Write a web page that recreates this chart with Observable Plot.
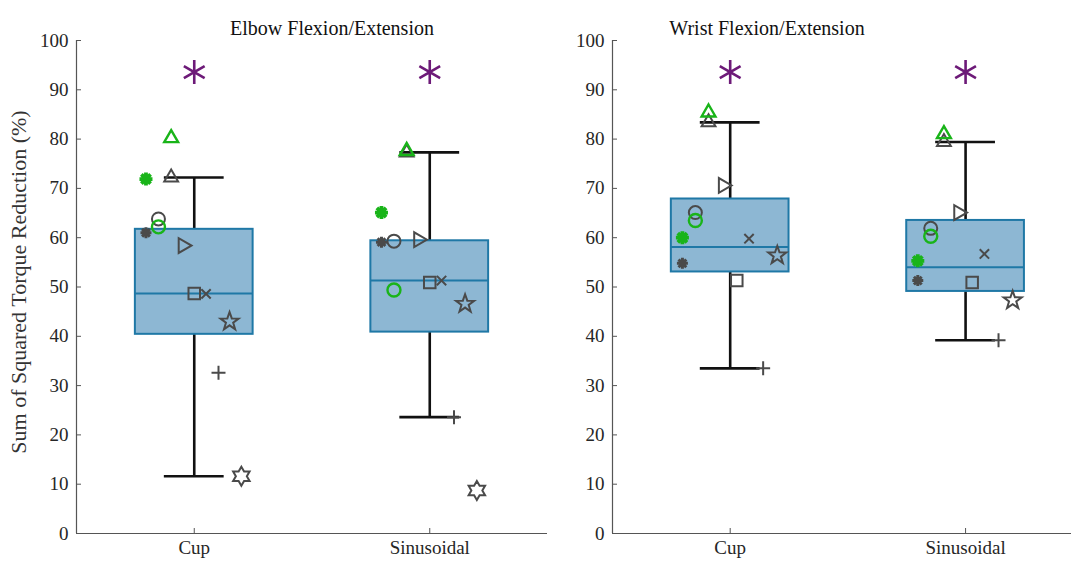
<!DOCTYPE html>
<html><head><meta charset="utf-8">
<script src="https://cdn.jsdelivr.net/npm/d3@7"></script>
<script src="https://cdn.jsdelivr.net/npm/@observablehq/plot@0.6"></script>
<style>
body{margin:0;background:#fff;}
#wrap{display:flex;width:1071px;height:565px;overflow:hidden;}
#wrap svg{display:block;flex:none;}
#wrap svg text{font-family:"Liberation Serif","Times New Roman",serif !important;}
</style></head><body><div id="wrap"></div>
<script>
// ---------- data ----------
const conditions = ["Cup", "Sinusoidal"];
const panelTitles = ["Elbow Flexion/Extension", "Wrist Flexion/Extension"];
const yLabel = "Sum of Squared Torque Reduction (%)";
const yTicks = [0, 10, 20, 30, 40, 50, 60, 70, 80, 90, 100];

// subject marker order (gray markers)
const subjectShapes = ["triUp", "circle", "asterisk", "triRight", "square", "times", "pentagram", "plus", "hexagram"];
const elbowCup = [72.2, 63.8, 61.0, 58.4, 48.7, 48.6, 43.0, 32.6, 11.6];
const elbowSin = [77.3, 59.3, 59.1, 59.6, 50.9, 51.3, 46.6, 23.6, 8.7];
const wristCup = [83.4, 65.1, 54.8, 70.6, 51.3, 59.8, 56.4, 33.5, null];
const wristSin = [79.4, 61.9, 51.3, 65.1, 50.9, 56.7, 47.3, 39.2, null];
// horizontal jitter of each subject (in category units)
const elbowJitter = [-0.098, -0.152, -0.205, -0.048, 0, 0.05, 0.15, 0.103, 0.2];
const wristJitter = [-0.092, -0.148, -0.203, -0.03, 0.028, 0.08, 0.2, 0.14, 0.2];

// green markers (second group)
const greenShapes = ["triUp", "circle", "asteriskFill"];
const greenSubjectIndex = [0, 1, 2];
const elbowCupG = [80.2, 62.2, 71.9];
const elbowSinG = [77.6, 49.4, 65.1];
const wristCupG = [85.4, 63.5, 60.0];
const wristSinG = [81.0, 60.3, 55.3];

// significance markers
const elbowSig = [93.6, 93.6];
const wristSig = [93.6, 93.6];

// ---------- symbols ----------
function sym(fn) { return { draw(ctx, size) { fn(ctx, Math.sqrt(size / Math.PI)); } }; }
function poly(ctx, pts) { ctx.moveTo(pts[0][0], pts[0][1]); for (let i = 1; i < pts.length; i++) ctx.lineTo(pts[i][0], pts[i][1]); ctx.closePath(); }
function star(ctx, n, ro, ri) {
  const pts = [];
  for (let i = 0; i < 2 * n; i++) { const a = -Math.PI / 2 + i * Math.PI / n; const r = i % 2 ? ri : ro; pts.push([r * Math.cos(a), r * Math.sin(a)]); }
  poly(ctx, pts);
}
function rays(ctx, n, r) {
  for (let i = 0; i < n; i++) { const a = -Math.PI / 2 + i * Math.PI / n; ctx.moveTo(r * Math.cos(a), r * Math.sin(a)); ctx.lineTo(-r * Math.cos(a), -r * Math.sin(a)); }
}
const symbols = {
  triUp: sym((c, r) => poly(c, [[0, -r], [0.866 * r, 0.5 * r], [-0.866 * r, 0.5 * r]])),
  triRight: sym((c, r) => poly(c, [[r, 0], [-0.5 * r, 0.866 * r], [-0.5 * r, -0.866 * r]])),
  circle: sym((c, r) => { c.moveTo(r, 0); c.arc(0, 0, r, 0, 2 * Math.PI); }),
  square: sym((c, r) => { const s = 0.8 * r; c.rect(-s, -s, 2 * s, 2 * s); }),
  times: sym((c, r) => { const s = 0.72 * r; c.moveTo(-s, -s); c.lineTo(s, s); c.moveTo(-s, s); c.lineTo(s, -s); }),
  plus: sym((c, r) => { c.moveTo(-r, 0); c.lineTo(r, 0); c.moveTo(0, -r); c.lineTo(0, r); }),
  pentagram: sym((c, r) => star(c, 5, r, 0.4 * r)),
  hexagram: sym((c, r) => star(c, 6, r, r / Math.sqrt(3))),
  asterisk: sym((c, r) => rays(c, 4, r)),
  asteriskFill: sym((c, r) => rays(c, 4, r)),
  sig: sym((c, r) => rays(c, 3, r))
};
const symStyle = {
  triUp: { r: 8, sw: 2 }, triRight: { r: 8.5, sw: 2 }, circle: { r: 6.5, sw: 2 }, square: { r: 7.2, sw: 2 },
  times: { r: 6.5, sw: 2 }, plus: { r: 7, sw: 2 }, pentagram: { r: 9.5, sw: 2 }, hexagram: { r: 9.5, sw: 2 },
  asterisk: { r: 5.5, sw: 3 }, asteriskFill: { r: 6.5, sw: 3.8 }
};

// ---------- box statistics (MATLAB-style quantiles) ----------
function quant(s, p) {
  const n = s.length, pos = n * p + 0.5;
  if (pos <= 1) return s[0];
  if (pos >= n) return s[n - 1];
  const lo = Math.floor(pos), f = pos - lo;
  return s[lo - 1] + f * (s[lo] - s[lo - 1]);
}
function boxStats(values, x) {
  const s = values.filter(v => v != null).sort((a, b) => a - b);
  const q1 = quant(s, 0.25), median = quant(s, 0.5), q3 = quant(s, 0.75), iqr = q3 - q1;
  const lo = d3.min(s.filter(v => v >= q1 - 1.5 * iqr));
  const hi = d3.max(s.filter(v => v <= q3 + 1.5 * iqr));
  return { x, q1, median, q3, lo, hi };
}

const BOXFILL = "#8db7d3", BOXSTROKE = "#1f78a6", GRAY = "#4a4a4a", GREEN = "#19b419", PURPLE = "#6d1a78", AXIS = "#555";
const FONT = "Liberation Serif, Times New Roman, serif";

function panel({ width, marginLeft, marginRight, xmax, title, titleDx, cup, sin, cupG, sinG, jitter, sig, showYLabel }) {
  const stats = [boxStats(cup, 1), boxStats(sin, 2)];
  const pts = [];
  [cup, sin].forEach((vals, ci) => vals.forEach((v, i) => { if (v != null) pts.push({ x: ci + 1 + jitter[i], y: v, shape: subjectShapes[i], color: GRAY }); }));
  [cupG, sinG].forEach((vals, ci) => vals.forEach((v, i) => { pts.push({ x: ci + 1 + jitter[greenSubjectIndex[i]], y: v, shape: greenShapes[i], color: GREEN }); }));
  const sigPts = sig.map((v, i) => ({ x: i + 1, y: v }));
  const hw = 0.25, cw = 0.127;
  const shapeNames = ["triUp", "circle", "asterisk", "triRight", "square", "times", "pentagram", "plus", "hexagram", "asteriskFill"];
  const dotMarks = [];
  for (const color of [GRAY, GREEN]) {
    for (const s of shapeNames) {
      const d = pts.filter(p => p.shape === s && p.color === color);
      if (!d.length) continue;
      const sw = color === GREEN && s !== "asteriskFill" ? 2.4 : symStyle[s].sw;
      dotMarks.push(Plot.dot(d, { x: "x", y: "y", symbol: symbols[s], r: symStyle[s].r, stroke: color, strokeWidth: sw, fill: "none", strokeLinejoin: "miter" }));
    }
  }
  return Plot.plot({
    width, height: 565,
    marginTop: 40, marginBottom: 32, marginLeft, marginRight,
    style: { fontFamily: FONT, fontSize: "19px", color: "#262626", background: "white", overflow: "visible" },
    x: { domain: [0.5, xmax], label: null },
    y: { domain: [0, 100], label: null },
    marks: [
      Plot.ruleX([0.5], { y1: 0, y2: 100, stroke: AXIS, strokeWidth: 1.2 }),
      Plot.ruleY([0], { x1: 0.5, x2: xmax, stroke: AXIS, strokeWidth: 1.2 }),
      Plot.axisY(yTicks, { label: null, tickSize: -5, tickPadding: 13, fontSize: 19, stroke: AXIS, fill: "#262626", fontFamily: FONT }),
      Plot.axisX([1, 2], { label: null, tickSize: -5, tickPadding: 12, tickFormat: d => conditions[d - 1], fontSize: 19, stroke: AXIS, fill: "#262626", fontFamily: FONT }),
      // whiskers
      Plot.ruleX(stats, { x: "x", y1: "q3", y2: "hi", stroke: "#111", strokeWidth: 2.6 }),
      Plot.ruleX(stats, { x: "x", y1: "lo", y2: "q1", stroke: "#111", strokeWidth: 2.6 }),
      Plot.ruleY(stats, { y: "hi", x1: d => d.x - cw, x2: d => d.x + cw, stroke: "#111", strokeWidth: 2.6 }),
      Plot.ruleY(stats, { y: "lo", x1: d => d.x - cw, x2: d => d.x + cw, stroke: "#111", strokeWidth: 2.6 }),
      // box
      Plot.rect(stats, { x1: d => d.x - hw, x2: d => d.x + hw, y1: "q1", y2: "q3", fill: BOXFILL, stroke: BOXSTROKE, strokeWidth: 2 }),
      Plot.ruleY(stats, { y: "median", x1: d => d.x - hw, x2: d => d.x + hw, stroke: BOXSTROKE, strokeWidth: 2 }),
      ...dotMarks,
      Plot.dot(sigPts, { x: "x", y: "y", symbol: symbols.sig, r: 12, stroke: PURPLE, strokeWidth: 2.6, fill: "none" }),
      Plot.text([title], { text: d => d, frameAnchor: "top", dy: -20, dx: titleDx, fontSize: 20, fill: "#111", fontFamily: FONT }),
      showYLabel ? Plot.text([yLabel], { text: d => d, frameAnchor: "left", textAnchor: "middle", rotate: -90, dx: -58, dy: -5, fontSize: 22, fill: "#333", fontFamily: FONT }) : null
    ]
  });
}

const wrap = document.getElementById("wrap");
wrap.appendChild(panel({ width: 550, marginLeft: 76, marginRight: 3, xmax: 2.5, title: panelTitles[0], titleDx: 20,
  cup: elbowCup, sin: elbowSin, cupG: elbowCupG, sinG: elbowSinG, jitter: elbowJitter, sig: elbowSig, showYLabel: true }));
wrap.appendChild(panel({ width: 521, marginLeft: 62, marginRight: 0, xmax: 2.45, title: panelTitles[1], titleDx: -75,
  cup: wristCup, sin: wristSin, cupG: wristCupG, sinG: wristSinG, jitter: wristJitter, sig: wristSig, showYLabel: false }));
</script>
</body></html>
